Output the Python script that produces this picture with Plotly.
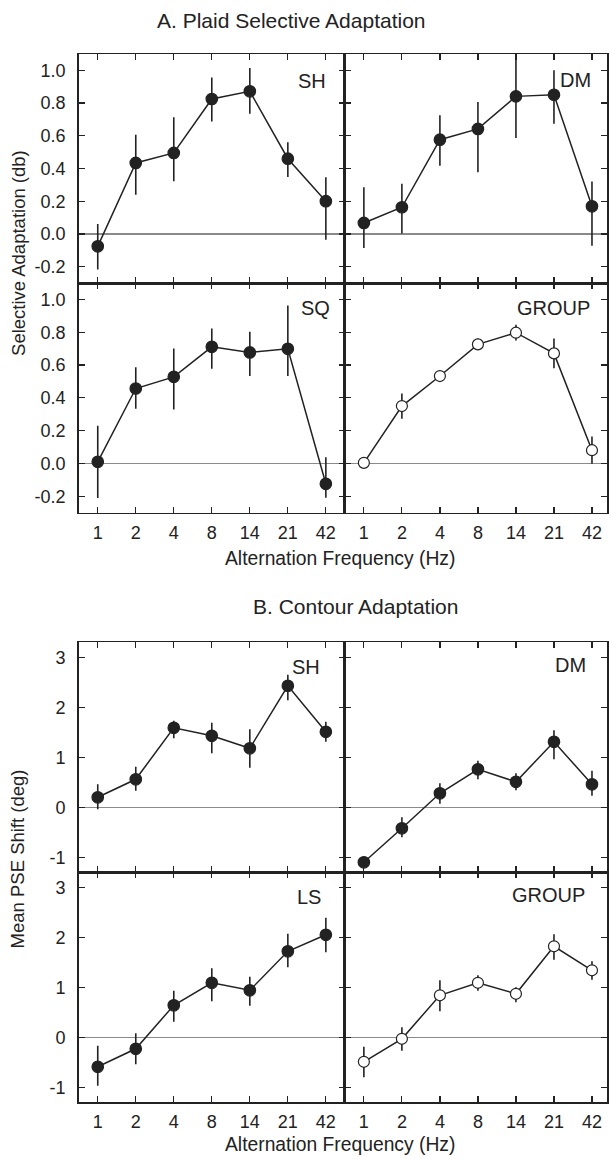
import plotly.graph_objects as go

# ---------------- data ----------------
freq_labels = ["1", "2", "4", "8", "14", "21", "42"]

# Panel A: Plaid Selective Adaptation (db)
a_sh = [-0.076, 0.434, 0.495, 0.825, 0.872, 0.46, 0.20]
a_sh_up = [0.137, 0.173, 0.218, 0.132, 0.143, 0.10, 0.146]
a_sh_dn = [0.142, 0.194, 0.173, 0.137, 0.137, 0.112, 0.235]

a_dm = [0.067, 0.163, 0.576, 0.642, 0.841, 0.851, 0.169]
a_dm_up = [0.218, 0.144, 0.149, 0.165, 0.255, 0.149, 0.152]
a_dm_dn = [0.153, 0.161, 0.159, 0.265, 0.254, 0.177, 0.241]

a_sq = [0.01, 0.457, 0.528, 0.711, 0.677, 0.699, -0.124]
a_sq_up = [0.22, 0.13, 0.173, 0.112, 0.126, 0.264, 0.162]
a_sq_dn = [0.22, 0.124, 0.199, 0.134, 0.144, 0.166, 0.085]

a_grp = [0.004, 0.35, 0.533, 0.726, 0.797, 0.671, 0.081]
a_grp_err = [0.02, 0.077, 0.02, 0.035, 0.048, 0.09, 0.083]

# Panel B: Contour Adaptation (deg)
b_sh = [0.20, 0.56, 1.59, 1.43, 1.18, 2.43, 1.51]
b_sh_up = [0.26, 0.25, 0.14, 0.26, 0.38, 0.22, 0.20]
b_sh_dn = [0.24, 0.23, 0.21, 0.35, 0.39, 0.29, 0.20]

b_dm = [-1.10, -0.42, 0.28, 0.76, 0.51, 1.31, 0.46]
b_dm_up = [0.08, 0.22, 0.20, 0.17, 0.17, 0.23, 0.27]
b_dm_dn = [0.08, 0.18, 0.21, 0.20, 0.17, 0.35, 0.23]

b_ls = [-0.59, -0.23, 0.64, 1.09, 0.94, 1.72, 2.05]
b_ls_up = [0.42, 0.31, 0.29, 0.29, 0.27, 0.35, 0.34]
b_ls_dn = [0.38, 0.31, 0.33, 0.37, 0.31, 0.32, 0.35]

b_grp = [-0.49, -0.03, 0.84, 1.09, 0.87, 1.82, 1.34]
b_grp_up = [0.30, 0.23, 0.30, 0.15, 0.13, 0.24, 0.18]
b_grp_dn = [0.31, 0.24, 0.32, 0.16, 0.17, 0.27, 0.19]

a_ytickvals = [-0.2, 0.0, 0.2, 0.4, 0.6, 0.8, 1.0]
a_yticktext = ["-0.2", "0.0", "0.2", "0.4", "0.6", "0.8", "1.0"]
b_ytickvals = [-1, 0, 1, 2, 3]
b_yticktext = ["-1", "0", "1", "2", "3"]

panel_names = ["SH", "DM", "SQ", "GROUP", "SH", "DM", "LS", "GROUP"]

# ---------------- layout geometry ----------------
W, H = 609, 1159
FONT = "Liberation Sans, Arial, Helvetica, sans-serif"
INK = "#222222"


def px_x(p):
    return p / W


def px_y(p):
    return 1 - p / H


left_dom = [px_x(79), px_x(346)]
right_dom = [px_x(346), 1.0]
rows_px = [(54, 283), (283, 512.7), (642.3, 872.3), (872.3, 1102.3)]
row_dom = [[px_y(b), px_y(t)] for (t, b) in rows_px]
spacing = 267 / 7

series = [
    (a_sh, a_sh_up, a_sh_dn, False),
    (a_dm, a_dm_up, a_dm_dn, False),
    (a_sq, a_sq_up, a_sq_dn, False),
    (a_grp, a_grp_err, a_grp_err, True),
    (b_sh, b_sh_up, b_sh_dn, False),
    (b_dm, b_dm_up, b_dm_dn, False),
    (b_ls, b_ls_up, b_ls_dn, False),
    (b_grp, b_grp_up, b_grp_dn, True),
]

fig = go.Figure()
layout = {}
for i, (vals, up, dn, open_marker) in enumerate(series):
    n = i + 1
    xa = "x" if n == 1 else f"x{n}"
    ya = "y" if n == 1 else f"y{n}"
    row = i // 2
    col = i % 2
    fig.add_trace(go.Scatter(
        x=freq_labels, y=vals, xaxis=xa, yaxis=ya,
        mode="lines+markers",
        line=dict(color=INK, width=1.5),
        marker=dict(
            symbol="circle",
            size=11.5 if not open_marker else 11,
            color="white" if open_marker else INK,
            line=dict(color=INK, width=1.2),
        ),
        error_y=dict(type="data", array=up, arrayminus=dn, symmetric=False,
                     color=INK, thickness=1.6, width=0),
        showlegend=False, hoverinfo="skip",
    ))
    is_a = i < 4
    bottom_row = row in (1, 3)
    xkey = "xaxis" if n == 1 else f"xaxis{n}"
    ykey = "yaxis" if n == 1 else f"yaxis{n}"
    layout[xkey] = dict(
        domain=left_dom if col == 0 else right_dom,
        anchor=ya,
        type="category",
        range=[-0.5, 6.5] if col == 0 else [-0.5, -0.5 + (W - 346) / spacing],
        ticks="inside", ticklen=6, tickwidth=1.2, tickcolor=INK,
        showline=True, linecolor=INK, linewidth=1.5, mirror="ticks",
        showgrid=False, zeroline=False,
        showticklabels=bottom_row,
        tickfont=dict(size=18, color=INK, family=FONT),
        ticklabelstandoff=3,
        fixedrange=True,
    )
    layout[ykey] = dict(
        domain=row_dom[row],
        anchor=xa,
        range=[-0.3, 1.1] if is_a else [-1.3, 3.3],
        tickmode="array",
        tickvals=a_ytickvals if is_a else b_ytickvals,
        ticktext=a_yticktext if is_a else b_yticktext,
        ticks="inside", ticklen=6, tickwidth=1.2, tickcolor=INK,
        showline=True, linecolor=INK, linewidth=1.5, mirror="ticks",
        showgrid=False,
        zeroline=True, zerolinecolor="#8a8a8a", zerolinewidth=1.3,
        showticklabels=(col == 0),
        tickfont=dict(size=18, color=INK, family=FONT),
        ticklabelstandoff=8,
        fixedrange=True,
    )

annotations = []


def ann(text, x, y, size, xanchor="center", textangle=0):
    annotations.append(dict(
        text=text, x=px_x(x), y=px_y(y), xref="paper", yref="paper",
        xanchor=xanchor, yanchor="middle", showarrow=False,
        textangle=textangle,
        font=dict(size=size, color=INK, family=FONT),
    ))


# titles
ann("A. Plaid Selective Adaptation", 292.5, 20.5, 21)
ann("B. Contour Adaptation", 356.5, 607, 21)
# x axis titles
ann("Alternation Frequency (Hz)", 341, 558, 19.3)
ann("Alternation Frequency (Hz)", 341, 1144, 19.3)
# y axis titles
ann("Selective Adaptation (db)", 18, 253, 18.5, textangle=-90)
ann("Mean PSE Shift (deg)", 18, 858.5, 18.5, textangle=-90)

# panel labels
label_pos = [(313.5, 80.7), (577.5, 80), (317, 307.8), (555.5, 307.5),
             (307.5, 667), (572.5, 665), (309.7, 896.7), (550.5, 895)]
for name, (x, y) in zip(panel_names, label_pos):
    ann(name, x, y, 20)

fig.update_layout(
    width=W, height=H, autosize=False,
    margin=dict(l=0, r=0, t=0, b=0, pad=0),
    paper_bgcolor="white", plot_bgcolor="white",
    font=dict(family=FONT, color=INK),
    annotations=annotations,
    **layout,
)

fig.write_html("out.html",
               config={"displayModeBar": False, "staticPlot": True},
               post_script="document.body.style.margin='0px';document.body.style.overflow='hidden';")
